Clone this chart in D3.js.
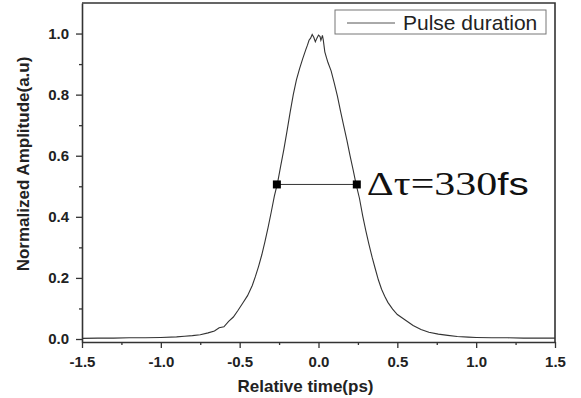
<!DOCTYPE html>
<html>
<head>
<meta charset="utf-8">
<script src="https://cdn.jsdelivr.net/npm/d3@7"></script>
<style>
  body { margin: 0; background: #fff; }
  .axis path, .axis line { stroke: #333; }
</style>
</head>
<body>
<div class="chart"></div>
<script>
// pulse autocorrelation trace
var time = [-1.5, -1.4, -1.3, -1.2, -1.1, -1.0, -0.9, -0.85, -0.8, -0.75, -0.7, -0.66, -0.63, -0.6,
  -0.57, -0.54, -0.51, -0.48, -0.45, -0.42, -0.40, -0.38, -0.36, -0.34, -0.32, -0.30, -0.28,
  -0.26, -0.24, -0.22, -0.20, -0.18, -0.16, -0.14, -0.12, -0.10, -0.08, -0.07, -0.06, -0.05,
  -0.04, -0.03, -0.02, -0.01, 0.0, 0.01, 0.015, 0.02, 0.025, 0.03, 0.04, 0.05, 0.06, 0.08,
  0.10, 0.12, 0.14, 0.16, 0.18, 0.20, 0.22, 0.24, 0.26, 0.28, 0.30, 0.32, 0.34, 0.36, 0.38,
  0.40, 0.42, 0.44, 0.47, 0.50, 0.55, 0.60, 0.65, 0.70, 0.76, 0.82, 0.88, 0.95, 1.0, 1.1,
  1.2, 1.3, 1.4, 1.5];
var amplitude = [0.002, 0.003, 0.003, 0.004, 0.004, 0.005, 0.007, 0.009, 0.011, 0.014, 0.020, 0.026, 0.037, 0.040,
  0.058, 0.072, 0.094, 0.118, 0.142, 0.175, 0.205, 0.238, 0.275, 0.318, 0.365, 0.415, 0.468,
  0.510, 0.566, 0.620, 0.680, 0.742, 0.800, 0.848, 0.885, 0.918, 0.948, 0.962, 0.978, 0.985,
  0.997, 0.988, 0.973, 0.985, 0.995, 0.990, 0.978, 0.985, 0.994, 0.980, 0.940, 0.922, 0.905, 0.878,
  0.838, 0.795, 0.745, 0.698, 0.651, 0.600, 0.553, 0.503, 0.460, 0.404, 0.355, 0.310, 0.268, 0.230, 0.193,
  0.163, 0.140, 0.120, 0.098, 0.080, 0.062, 0.044, 0.031, 0.022, 0.016, 0.012, 0.008, 0.006, 0.005, 0.004,
  0.004, 0.003, 0.003, 0.003];

var xTicks = [-1.5, -1.0, -0.5, 0.0, 0.5, 1.0, 1.5];
var yTicks = [0.0, 0.2, 0.4, 0.6, 0.8, 1.0];
var fwhmTime = [-0.264, 0.243];
var fwhmLevel = 0.506;
var legendLabel = 'Pulse duration';
var note = ['\u0394\u03c4=330', 'fs'];

var sans = '"Liberation Sans", Arial, sans-serif';
var fullWidth = 581, fullHeight = 398;
var margin = { top: 3, right: 26, bottom: 56, left: 82 };
var width = fullWidth - margin.left - margin.right;
var height = fullHeight - margin.top - margin.bottom;

var svg = d3.select('.chart')
  .append('svg')
  .attr('width', fullWidth)
  .attr('height', fullHeight)
  .append('g')
  .attr('transform', 'translate(' + margin.left + ',' + margin.top + ')');

var xScale = d3.scaleLinear().domain([-1.5, 1.5]).range([0, width]);
var yScale = d3.scaleLinear().domain([-0.0098, 1.1]).range([height, 0]);

// minor ticks first, then majors with labels
svg.append('g')
  .attr('class', 'axis')
  .attr('transform', `translate(0, ${height})`)
  .call(d3.axisBottom(xScale).tickValues(d3.range(-1.25, 1.5, 0.5)).tickSize(3).tickFormat(''))
  .select('.domain').remove();
svg.append('g')
  .attr('class', 'axis')
  .call(d3.axisLeft(yScale).tickValues(d3.range(0.1, 1.1, 0.2)).tickSize(3).tickFormat(''))
  .select('.domain').remove();

var xAxis = svg.append('g')
  .attr('class', 'axis')
  .attr('transform', `translate(0, ${height})`)
  .call(d3.axisBottom(xScale).tickValues(xTicks).tickSizeInner(6).tickSizeOuter(0).tickPadding(8).tickFormat(d3.format('.1f')));
xAxis.selectAll('text').text(d => d3.format('.1f')(d).replace('\u2212', '-'));

var yAxis = svg.append('g')
  .attr('class', 'axis')
  .call(d3.axisLeft(yScale).tickValues(yTicks).tickSizeInner(6).tickSizeOuter(0).tickPadding(7).tickFormat(d3.format('.1f')));

svg.selectAll('.axis text')
  .style('font-family', sans)
  .style('font-weight', 'bold')
  .style('font-size', '15px')
  .style('fill', '#222');
svg.selectAll('.axis .domain').attr('stroke-width', 1.6);
svg.selectAll('.axis line').attr('stroke-width', 1.3);

// top and right frame
svg.append('path')
  .attr('d', `M0,0H${width}V${height}`)
  .attr('fill', 'none')
  .attr('stroke', '#333')
  .attr('stroke-width', 1.6);

// axis titles
svg.append('text')
  .attr('x', width / 2 - 13)
  .attr('y', height + 50)
  .attr('text-anchor', 'middle')
  .style('font-family', sans)
  .style('font-weight', 'bold')
  .style('font-size', '17px')
  .style('fill', '#222')
  .text('Relative time(ps)');

svg.append('text')
  .attr('transform', `translate(${-53}, ${161}) rotate(-90)`)
  .attr('text-anchor', 'middle')
  .style('font-family', sans)
  .style('font-weight', 'bold')
  .style('font-size', '17px')
  .style('fill', '#222')
  .text('Normalized Amplitude(a.u)');

// the trace
var line = d3.line()
  .x((d, i) => xScale(time[i]))
  .y(d => yScale(d));

svg.append('path')
  .datum(amplitude)
  .attr('d', line)
  .attr('fill', 'none')
  .attr('stroke', '#333')
  .attr('stroke-width', 1.1);

// FWHM marker
svg.append('line')
  .attr('x1', xScale(fwhmTime[0]))
  .attr('x2', xScale(fwhmTime[1]))
  .attr('y1', yScale(fwhmLevel))
  .attr('y2', yScale(fwhmLevel))
  .attr('stroke', '#333')
  .attr('stroke-width', 1);

svg.selectAll('rect.mark')
  .data(fwhmTime)
  .enter()
  .append('rect')
  .attr('class', 'mark')
  .attr('x', d => xScale(d) - 4)
  .attr('y', yScale(fwhmLevel) - 4)
  .attr('width', 8)
  .attr('height', 8)
  .attr('fill', '#000');

var label = svg.append('text')
  .attr('x', xScale(fwhmTime[1]) + 10)
  .attr('y', yScale(fwhmLevel) + 11)
  .attr('textLength', 162)
  .attr('lengthAdjust', 'spacingAndGlyphs')
  .style('fill', '#111');
label.append('tspan')
  .style('font-family', '"Liberation Serif", "Times New Roman", serif')
  .style('font-size', '33px')
  .text(note[0]);
label.append('tspan')
  .style('font-family', sans)
  .style('font-size', '32px')
  .text(note[1]);

// legend
var legend = svg.append('g').attr('transform', `translate(${253}, ${7})`);
legend.append('rect')
  .attr('width', 211)
  .attr('height', 24)
  .attr('fill', '#fff')
  .attr('stroke', '#777')
  .attr('stroke-width', 1);
legend.append('line')
  .attr('x1', 12).attr('x2', 60)
  .attr('y1', 13).attr('y2', 13)
  .attr('stroke', '#555')
  .attr('stroke-width', 1);
legend.append('text')
  .attr('x', 68)
  .attr('y', 20)
  .style('font-family', sans)
  .style('font-size', '21px')
  .style('fill', '#222')
  .text(legendLabel);
</script>
</body>
</html>
